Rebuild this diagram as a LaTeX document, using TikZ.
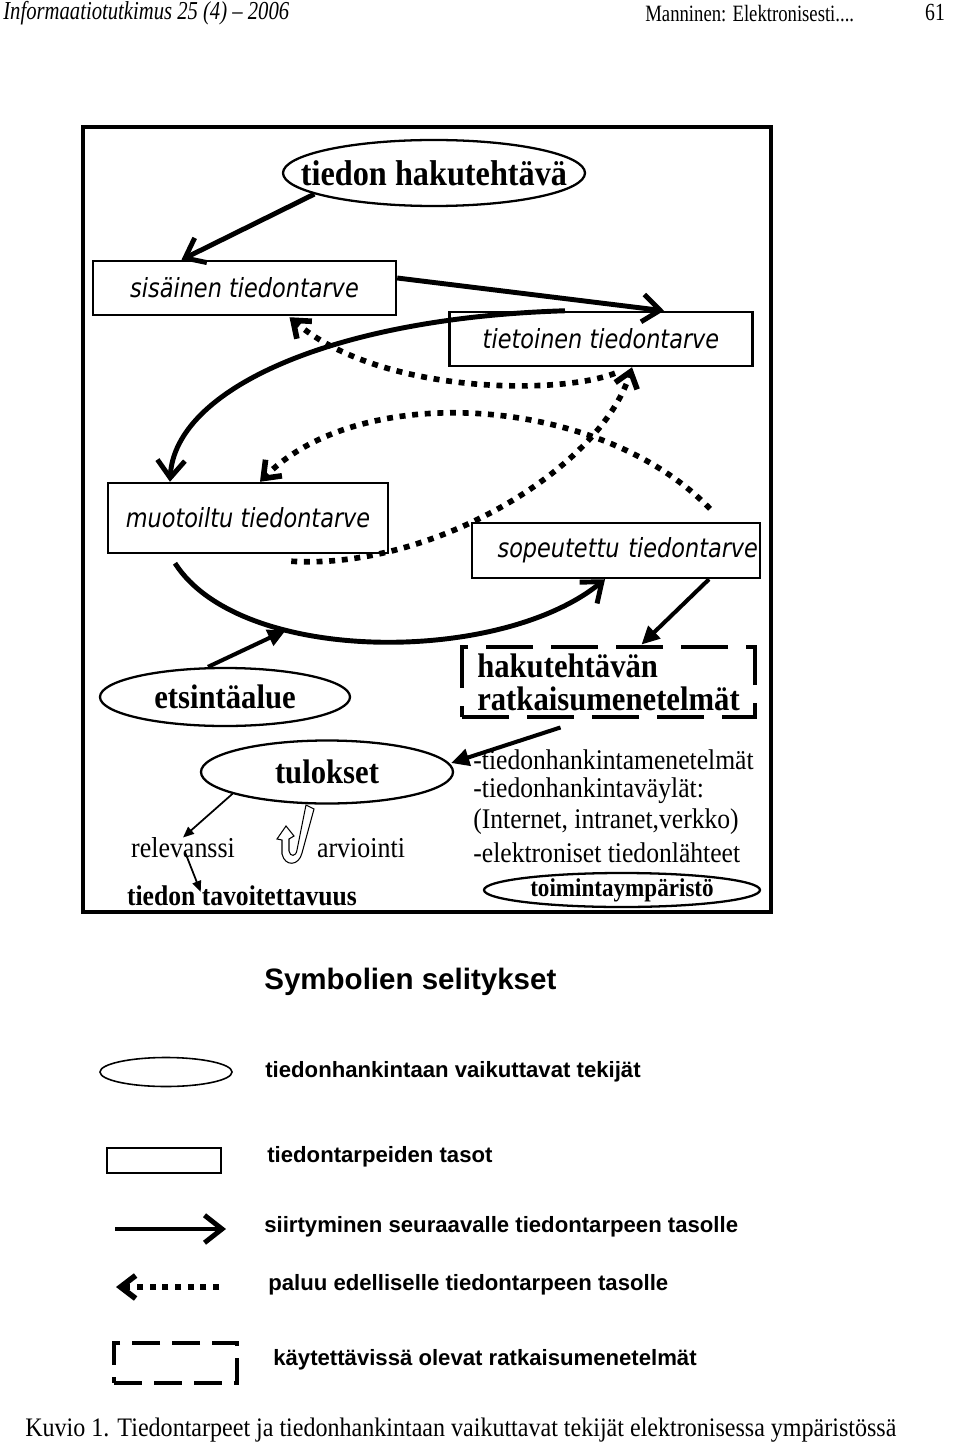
\documentclass[tikz,border=0pt]{standalone}
\usepackage{fontspec}
\setmainfont{Liberation Serif}[FakeStretch=0.9]
\newfontfamily\kapea{Liberation Serif}[FakeStretch=0.8, Ligatures=TeX]
\newfontfamily\boxfont{DejaVu Sans}[FakeStretch=0.85]
\newfontfamily\legfont{Liberation Sans}
\usetikzlibrary{arrows.meta,shapes.geometric,calc}

\begin{document}
\begin{tikzpicture}[x=0.2mm, y=-0.2mm,
  taso/.style={draw, line width=1.4pt, inner sep=0pt, font=\boxfont\itshape\fontsize{15}{18}\selectfont},
  tekija/.style={draw, ellipse, line width=1.3pt, inner sep=0pt},
  isoteksti/.style={font=\fontsize{19.4}{18.7}\selectfont\bfseries},
  siirto/.style={line width=2.8pt, -{Straight Barb[length=3.5mm,width=5.5mm]}},
  paluu/.style={line width=3.2pt, dash pattern=on 3.4pt off 3.8pt, -{Straight Barb[length=3mm,width=4.6mm]}},
  osoitin/.style={line width=2.3pt, -{Triangle[length=3.6mm,width=3.4mm]}},
  ohut/.style={line width=1pt, -{Triangle[length=2.2mm,width=1.8mm]}},
  ratkaisu/.style={draw, line width=2.8pt, dash pattern=on 9.4mm off 3.6mm, inner sep=0pt},
  teksti/.style={inner sep=0pt},
  selite/.style={inner sep=0pt, anchor=west, font=\legfont\bfseries\fontsize{12.6}{15}\selectfont}
]
\useasboundingbox (0,0) rectangle (960,1444);

% otsikkorivi
\node[teksti, anchor=west, font=\kapea\itshape\fontsize{14.7}{16}\selectfont] (lehti) at (3,13) {Informaatiotutkimus 25 (4) – 2006};
\node[teksti, anchor=west, font=\kapea\fontsize{13.3}{15}\selectfont] (kirjoittaja) at (645,14) {Manninen: Elektronisesti....};
\node[teksti, font=\kapea\fontsize{14}{15}\selectfont] (sivu) at (935,12) {61};

% kehys
\draw[line width=2.6pt] (83,127) rectangle (771,912);

% tiedontarpeen tasot ja tekijat
\node[tekija, minimum width=60.4mm, minimum height=13.2mm,
  label={[font=\fontsize{20.4}{22}\selectfont\bfseries]center:tiedon hakutehtävä}] (hak) at (434,173) {};
\node[taso, minimum width=60.6mm, minimum height=10.8mm] (sis) at (244.5,288) {sisäinen tiedontarve};
\node[taso, minimum width=60.6mm, minimum height=10.8mm] (tie) at (601,339) {tietoinen tiedontarve};
\node[taso, minimum width=56mm, minimum height=14mm] (muo) at (248,518) {muotoiltu tiedontarve};
\node[taso, minimum width=57.6mm, minimum height=11mm, text width=56.8mm, align=right] (sop) at (616,550.5) {sopeutettu tiedontarve};
\node[tekija, minimum width=50mm, minimum height=11.6mm, isoteksti] (ets) at (225,697) {etsintäalue};
\node[ratkaisu, minimum width=58.6mm, minimum height=14mm, align=left, isoteksti] (met) at (608.5,682) {hakutehtävän\\ratkaisumenetelmät};
\node[tekija, minimum width=50.4mm, minimum height=12.6mm, isoteksti] (tul) at (327,772) {tulokset};

\node[teksti, anchor=west, font=\fontsize{16.2}{18}\selectfont] (keino1) at (473,760) {-tiedonhankintamenetelmät};
\node[teksti, anchor=west, font=\fontsize{16.2}{18}\selectfont] (keino2) at (473,791) {-tiedonhankintaväylät:};
\node[teksti, anchor=west, font=\fontsize{16.2}{18}\selectfont] (keino3) at (473,822) {(Internet, intranet,verkko)};
\node[teksti, anchor=west, font=\fontsize{16.2}{18}\selectfont] (keino4) at (473,853) {-elektroniset tiedonlähteet};
\node[tekija, minimum width=55.2mm, minimum height=6.8mm, font=\fontsize{14.6}{16}\selectfont\bfseries] (toi) at (622,890) {toimintaympäristö};

\node[teksti, font=\fontsize{16.4}{18}\selectfont] (rel) at (183,848) {relevanssi};
\node[teksti, font=\fontsize{16.4}{18}\selectfont] (arv) at (361,848) {arviointi};
\node[teksti, font=\fontsize{16.2}{18}\selectfont\bfseries] (tav) at (242,896) {tiedon tavoitettavuus};

% arvioinnin kaantyva nuoli
\draw[line width=0.6pt, fill=white] (306,805) -- (314,809) -- (302,853)
  .. controls (299,866) and (285,867) .. (282,854) -- (282,840) -- (277,839)
  -- (286,826) -- (294,836) -- (289,839) -- (289,851)
  .. controls (290,857) and (296,857) .. (297,850) -- cycle;

% siirtymat ja paluut
\draw[siirto] (hak.190) -- ($(sis.north)+(-63,0)$);
\draw[siirto] ($(sis.east)+(0,-10)$) -- ($(tie.north)+(63,0)$);
\draw[siirto] ($(tie.north)+(-36,0)$) .. controls (330,318) and (175,390) .. ($(muo.north)+(-78,0)$);
\draw[paluu] ($(tie.south)+(14,6)$) .. controls (560,395) and (380,395) .. ($(sis.south)+(45,1)$);
\draw[paluu] ($(sop.north)+(94,-13)$) .. controls (600,395) and (360,380) .. ($(muo.north)+(12,0)$);
\draw[paluu] ($(muo.south east)+(-98,7)$) .. controls (430,570) and (600,470) .. ($(tie.south)+(31,0)$);
\draw[siirto] ($(muo.south)+(-73,9)$) .. controls (240,665) and (500,665) .. ($(sop.south)+(-11,0)$) coordinate[pos=0.32] (kaari);
\draw[osoitin] ($(ets.north)+(-17,0)$) -- (kaari);
\draw[osoitin] ($(sop.south)+(93,0)$) -- ($(met.north)+(33,0)$);
\draw[osoitin] ($(met.south)+(-48,8)$) -- ($(tul.east)+(-3,-9)$);
\draw[ohut] (tul.193) -- (rel.north);
\draw[ohut] ($(rel.center)+(2,4)$) -- ($(tav.west)+(74,-4)$);

% symbolien selitykset
\node[teksti, anchor=west, font=\legfont\bfseries\fontsize{16.8}{20}\selectfont] (otsikko) at (264,982) {Symbolien selitykset};
\node[tekija, line width=0.9pt, minimum width=26.4mm, minimum height=5.8mm] (selEll) at (166,1072) {};
\node[selite] (tekEll) at (265,1072) {tiedonhankintaan vaikuttavat tekijät};
\node[draw, line width=1.6pt, minimum width=22.8mm, minimum height=5mm, inner sep=0pt] (selBox) at (164,1160.5) {};
\node[selite] (tekBox) at (267,1157) {tiedontarpeiden tasot};
\coordinate (siirtoAlku) at (115,1229);
\coordinate (siirtoLoppu) at (226,1229);
\draw[siirto] (siirtoAlku) -- (siirtoLoppu);
\node[selite] (tekSiirto) at (264,1227) {siirtyminen seuraavalle tiedontarpeen tasolle};
\coordinate (paluuAlku) at (219,1287);
\coordinate (paluuLoppu) at (116,1287);
\draw[paluu] (paluuAlku) -- (paluuLoppu);
\node[selite] (tekPaluu) at (268,1285) {paluu edelliselle tiedontarpeen tasolle};
\node[ratkaisu, dash pattern=on 5.6mm off 2.4mm, minimum width=24.6mm, minimum height=8mm] (selRat) at (175.5,1363) {};
\node[selite] (tekRat) at (273,1360) {käytettävissä olevat ratkaisumenetelmät};

% kuvateksti
\node[teksti, anchor=west, font=\fontsize{15.2}{17}\selectfont] (kuvio) at (25,1430) {Kuvio 1. Tiedontarpeet ja tiedonhankintaan vaikuttavat tekijät elektronisessa ympäristössä};
\end{tikzpicture}
\end{document}
